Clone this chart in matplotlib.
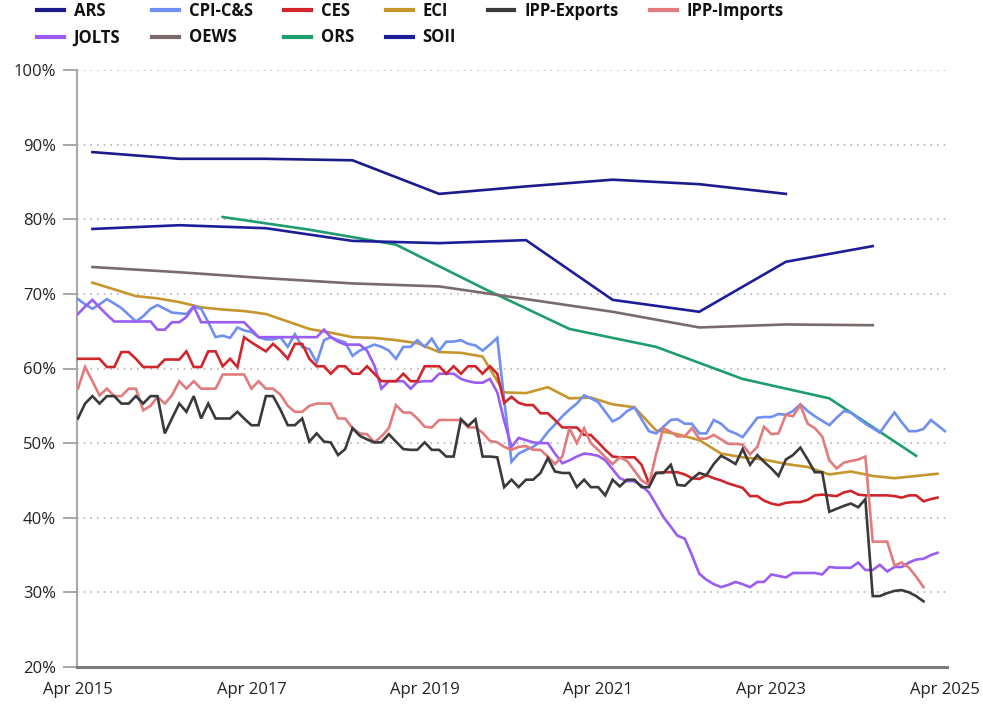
import numpy as np
import pandas as pd
import matplotlib
matplotlib.use("Agg")
import matplotlib.pyplot as plt
from matplotlib.lines import Line2D

plt.rcParams['font.family'] = ['Open Sans', 'DejaVu Sans']

# ---------------- data ----------------
tick_labels = ["Apr 2015", "Apr 2017", "Apr 2019", "Apr 2021", "Apr 2023", "Apr 2025"]
y_ticks = [20, 30, 40, 50, 60, 70, 80, 90, 100]

# annual series (June points)
ars = [89.0, 88.1, 88.1, 87.9, 83.4, 84.4, 85.3, 84.7, 83.4]
soii = [78.7, 79.2, 78.8, 77.1, 76.8, 77.2, 69.2, 67.6, 74.3, 76.4]
oews = [73.6, 72.9, 72.1, 71.4, 71.0, 69.3, 67.6, 65.5, 65.9, 65.8]
# ORS (December points from 2016)
ors = [80.3, 78.6, 76.6, 70.8, 65.3, 62.9, 58.6, 56.0, 48.3]
# ECI quarterly from Jun 2015
eci = [71.5, 70.6, 69.7, 69.4, 68.9, 68.2, 67.9, 67.7, 67.3, 66.3,
       65.3, 64.8, 64.2, 64.1, 63.8, 63.4, 62.2, 62.1, 61.6, 56.8,
       56.7, 57.5, 56.0, 56.1, 55.2, 54.8, 51.7, 51.2, 50.4, 48.6,
       48.1, 47.8, 47.2, 46.8, 45.8, 46.2, 45.6, 45.3, 45.6, 45.9]

# monthly series from Apr 2015
cpi = [69.3, 68.6, 68.0, 68.6, 69.3, 68.7, 68.1, 67.2, 66.3, 67.0,
       68.0, 68.5, 68.0, 67.5, 67.4, 67.3, 68.3, 68.0, 66.2, 64.2,
       64.4, 64.1, 65.5, 65.1, 64.9, 64.2, 63.9, 63.9, 64.2, 62.9,
       64.6, 62.9, 62.6, 60.8, 63.8, 64.2, 63.8, 63.5, 61.7, 62.4,
       62.8, 63.2, 62.9, 62.4, 61.3, 62.9, 62.9, 63.8, 62.9, 64.0,
       62.4, 63.6, 63.6, 63.8, 63.3, 63.1, 62.4, 63.2, 64.1, 55.8,
       47.5, 48.6, 49.1, 49.5, 50.2, 51.5, 52.5, 53.6, 54.5, 55.3,
       56.4, 56.0, 55.5, 54.2, 52.9, 53.4, 54.3, 54.8, 53.2, 51.6,
       51.3, 52.2, 53.1, 53.2, 52.6, 52.6, 51.3, 51.3, 53.1, 52.6,
       51.7, 51.3, 50.8, 52.1, 53.4, 53.5, 53.5, 53.9, 53.8, 54.3,
       55.2, 54.3, 53.6, 53.0, 52.4, 53.4, 54.3, 54.1, 53.3, 52.6,
       52.0, 51.4, 52.8, 54.1, 52.8, 51.6, 51.6, 51.9, 53.1, 52.4, 51.6]

ces = [61.3, 61.3, 61.3, 61.3, 60.2, 60.2, 62.2, 62.2, 61.3, 60.2,
       60.2, 60.2, 61.2, 61.2, 61.2, 62.3, 60.2, 60.2, 62.3, 62.3,
       60.3, 61.3, 60.2, 64.2, 63.5, 62.9, 62.3, 63.3, 62.4, 61.3,
       63.3, 63.3, 61.3, 60.3, 60.3, 59.3, 60.3, 60.3, 59.3, 59.3,
       60.3, 59.3, 58.3, 58.3, 58.3, 59.3, 58.3, 58.3, 60.3, 60.3,
       60.3, 59.3, 60.3, 59.3, 60.3, 60.3, 59.3, 60.3, 59.3, 55.4,
       56.2, 55.4, 55.1, 55.1, 54.0, 54.0, 53.1, 52.1, 52.1, 52.1,
       51.1, 51.1, 50.1, 49.1, 48.2, 48.1, 48.1, 48.1, 47.1, 44.6,
       46.0, 46.1, 46.1, 46.1, 45.8, 45.3, 45.2, 45.7, 45.3, 45.0,
       44.6, 44.3, 44.0, 42.9, 42.9, 42.3, 41.9, 41.7, 42.0, 42.1,
       42.1, 42.4, 43.0, 43.1, 43.0, 42.9, 43.4, 43.6, 43.1, 43.0,
       43.0, 43.0, 43.0, 42.9, 42.7, 43.0, 43.0, 42.2, 42.5, 42.7]

jolts = [67.3, 68.3, 69.2, 68.2, 67.2, 66.3, 66.3, 66.3, 66.3, 66.3,
         66.3, 65.2, 65.2, 66.2, 66.2, 66.9, 68.3, 66.2, 66.2, 66.2,
         66.2, 66.2, 66.2, 66.2, 65.2, 64.2, 64.2, 64.2, 64.2, 64.2,
         64.2, 64.2, 64.2, 64.2, 65.2, 64.2, 63.6, 63.2, 63.2, 63.2,
         62.4, 60.4, 57.3, 58.3, 58.3, 58.3, 57.3, 58.2, 58.3, 58.3,
         59.3, 59.3, 59.3, 58.6, 58.3, 58.1, 58.1, 58.6, 56.8, 53.0,
         49.5, 50.7, 50.4, 50.1, 50.0, 50.0, 48.6, 47.3, 47.7, 48.2,
         48.6, 48.5, 48.3, 47.7, 46.5, 45.3, 44.9, 44.9, 44.3, 43.4,
         41.8, 40.1, 38.8, 37.6, 37.2, 35.0, 32.5, 31.7, 31.1, 30.7,
         31.0, 31.4, 31.1, 30.7, 31.4, 31.4, 32.4, 32.2, 32.0, 32.6,
         32.6, 32.6, 32.6, 32.4, 33.4, 33.3, 33.3, 33.3, 34.0, 33.0,
         33.0, 33.7, 32.8, 33.4, 33.4, 34.0, 34.4, 34.5, 35.0, 35.3]

ipp_imports = [57.3, 60.2, 58.3, 56.4, 57.3, 56.3, 56.3, 57.3, 57.3, 54.4,
               55.0, 56.2, 55.3, 56.4, 58.3, 57.3, 58.3, 57.3, 57.3, 57.3,
               59.2, 59.2, 59.2, 59.2, 57.3, 58.3, 57.3, 57.3, 56.5, 55.0,
               54.2, 54.2, 55.0, 55.3, 55.3, 55.3, 53.3, 53.3, 52.0, 51.3,
               51.2, 50.1, 50.9, 52.0, 55.1, 54.1, 54.1, 53.3, 52.2, 52.1,
               53.1, 53.1, 53.1, 53.1, 52.1, 52.1, 51.4, 50.3, 50.1, 49.5,
               49.1, 49.5, 49.6, 49.1, 49.1, 48.2, 47.2, 48.2, 52.0, 50.0,
               52.0, 50.0, 49.1, 48.1, 47.2, 48.1, 47.6, 46.3, 45.0, 44.4,
               48.5, 52.0, 51.5, 50.9, 50.9, 52.0, 50.6, 50.6, 51.1, 50.5,
               49.9, 49.9, 49.8, 48.5, 49.5, 52.2, 51.2, 51.3, 53.8, 53.6,
               55.1, 52.6, 52.0, 50.9, 47.7, 46.6, 47.4, 47.6, 47.8, 48.2,
               36.8, 36.8, 36.8, 33.6, 34.0, 33.3, 32.1, 30.7]

ipp_exports = [53.3, 55.3, 56.3, 55.3, 56.3, 56.3, 55.3, 55.3, 56.3, 55.3,
               56.3, 56.3, 51.3, 53.3, 55.3, 54.2, 56.3, 53.3, 55.3, 53.3,
               53.3, 53.3, 54.2, 53.3, 52.4, 52.4, 56.3, 56.3, 54.5, 52.4,
               52.4, 53.3, 50.2, 51.3, 50.2, 50.1, 48.4, 49.2, 52.0, 51.0,
               50.5, 50.1, 50.1, 51.2, 50.2, 49.2, 49.1, 49.1, 50.1, 49.1,
               49.1, 48.2, 48.2, 53.2, 52.3, 53.2, 48.2, 48.2, 48.1, 44.1,
               45.1, 44.1, 45.1, 45.1, 46.0, 48.0, 46.2, 46.0, 46.0, 44.1,
               45.1, 44.1, 44.1, 43.0, 45.1, 44.2, 45.1, 45.1, 44.1, 44.1,
               46.0, 46.0, 47.1, 44.4, 44.3, 45.2, 46.0, 45.7, 47.2, 48.3,
               47.8, 47.2, 49.2, 47.1, 48.4, 47.5, 46.6, 45.6, 47.8, 48.4,
               49.4, 47.8, 46.1, 46.1, 40.8, 41.2, 41.6, 41.9, 41.4, 42.5,
               29.5, 29.5, 29.9, 30.2, 30.3, 30.0, 29.5, 28.8]

# ---------------- dates ----------------
def monthly(vals):
    return pd.date_range("2015-04-01", periods=len(vals), freq="MS")

ars_d = pd.date_range("2015-06-01", periods=len(ars), freq="12MS")
soii_d = pd.date_range("2015-06-01", periods=len(soii), freq="12MS")
oews_d = pd.date_range("2015-06-01", periods=len(oews), freq="12MS")
ors_d = pd.date_range("2016-12-01", periods=len(ors), freq="12MS")
eci_d = pd.date_range("2015-06-01", periods=len(eci), freq="3MS")

series = [
    ("ARS", ars_d, ars, "#1b1b8e"),
    ("CPI-C&S", monthly(cpi), cpi, "#6f8ff2"),
    ("CES", monthly(ces), ces, "#d0262b"),
    ("ECI", eci_d, eci, "#c6952c"),
    ("IPP-Exports", monthly(ipp_exports), ipp_exports, "#3a3a3a"),
    ("IPP-Imports", monthly(ipp_imports), ipp_imports, "#e27b7b"),
    ("JOLTS", monthly(jolts), jolts, "#9a5cf5"),
    ("OEWS", oews_d, oews, "#7a6b6b"),
    ("ORS", ors_d, ors, "#1f9e6d"),
    ("SOII", soii_d, soii, "#1d1d99"),
]

# ---------------- figure ----------------
fig = plt.figure(figsize=(9.83, 7.04), dpi=100)
ax = fig.add_axes([77 / 983, 1 - 667 / 704, (947 - 77) / 983, (667 - 70) / 704])

draw_order = ["ORS", "OEWS", "ARS", "SOII", "ECI", "CPI-C&S", "JOLTS", "CES",
              "IPP-Imports", "IPP-Exports"]
lookup = {s[0]: s for s in series}
for z, name in enumerate(draw_order):
    _, d, v, c = lookup[name]
    ax.plot(d, v, color=c, lw=1.9, solid_joinstyle="miter", zorder=3 + z)

ax.set_ylim(20, 100)
tick_pos = pd.to_datetime(tick_labels, format="%b %Y")
ax.set_xlim(tick_pos[0] - pd.Timedelta(days=4), tick_pos[-1] + pd.Timedelta(days=9))
ax.set_xticks(tick_pos)
ax.set_xticklabels(tick_labels)
ax.set_yticks(y_ticks)
ax.set_yticklabels([f"{t}%" for t in y_ticks])

ax.grid(axis="y", linestyle=(0, (1, 3)), color="#b5b5b5", lw=1.2)
ax.grid(axis="x", visible=False)
for s in ["top", "right"]:
    ax.spines[s].set_visible(False)
ax.spines["left"].set_color("#a8a8a8")
ax.spines["left"].set_linewidth(1.5)
ax.spines["bottom"].set_color("#7a7a7a")
ax.spines["bottom"].set_linewidth(2.2)
ax.spines["bottom"].set_zorder(20)

ax.tick_params(axis="y", length=10, width=1.4, color="#a8a8a8", pad=5,
               labelsize=12, labelcolor="#222222")
ax.tick_params(axis="x", length=0, pad=11, labelsize=12, labelcolor="#222222")

# ---------------- legend (two rows, columns) ----------------
legend_order = ["ARS", "JOLTS", "CPI-C&S", "OEWS", "CES", "ORS", "ECI", "SOII",
                "IPP-Exports", "IPP-Imports"]
handles = [Line2D([0], [0], color=lookup[n][3], lw=3) for n in legend_order]
leg = fig.legend(handles, legend_order, ncol=6, loc="upper left",
                 bbox_to_anchor=(37 / 983, 1 - 2 / 704), frameon=False,
                 handlelength=1.6, handletextpad=0.6, columnspacing=1.9,
                 labelspacing=0.5, borderaxespad=0, borderpad=0,
                 prop={"size": 12, "weight": "bold"})
for t in leg.get_texts():
    t.set_color("#111111")

fig.savefig("out.png", dpi=100)
